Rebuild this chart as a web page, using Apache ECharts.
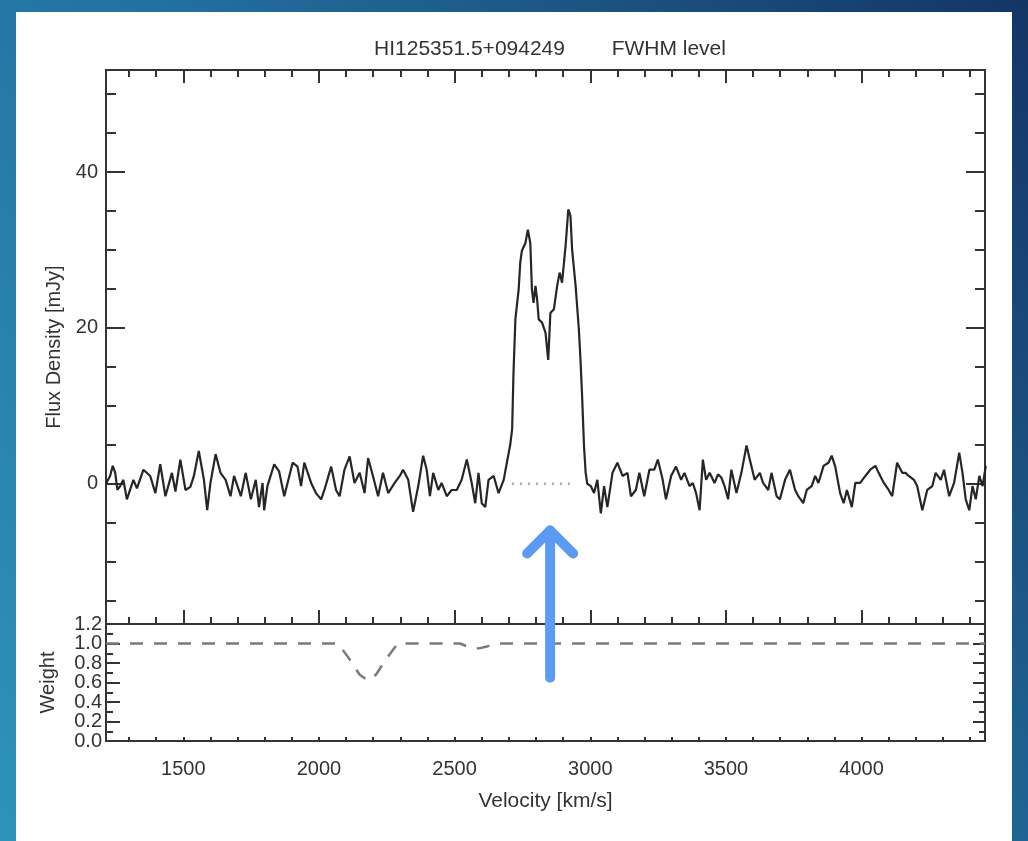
<!DOCTYPE html>
<html>
<head>
<meta charset="utf-8">
<script src="https://cdn.jsdelivr.net/npm/echarts@6/dist/echarts.min.js"></script>
<style>
html,body{margin:0;padding:0;width:1028px;height:841px;overflow:hidden;}
#chart{width:1028px;height:841px;}
</style>
</head>
<body>
<div id="chart"></div>
<script>
// ---------- data ----------
const titleText = 'HI125351.5+094249        FWHM level';
const xName = 'Velocity [km/s]';
const yName = 'Flux Density [mJy]';
const wName = 'Weight';

const velocity = [1215,1220,1230,1240,1249,1257,1267,1279,1292,1316,1329,1353,1378,1397,1415,1434,1458,1471,1489,1508,1526,1539,1557,1576,1588,1600,1619,1637,1656,1674,1687,1712,1730,1749,1767,1779,1792,1798,1810,1835,1853,1872,1903,1921,1934,1946,1971,1989,2008,2020,2045,2063,2076,2094,2113,2131,2150,2168,2181,2199,2218,2236,2255,2279,2298,
2310,2329,2347,2366,2384,2397,2409,2421,2440,2452,2471,2489,2508,2526,2545,2563,2576,2588,2600,2613,2625,2644,2662,2681,2693,2705,
2712,2717,2724,2736,2742,2748,2761,2770,2779,2785,2791,2798,2804,2810,2822,2835,2845,2853,2866,2878,2887,2896,2909,2919,2927,2933,2946,2958,2964,2970,2977,2983,2989,
3002,3014,3026,3039,3051,3063,3082,3100,3119,3137,3150,3168,3181,3199,3218,3236,3249,3267,3279,3298,3316,3335,3347,3366,3378,
3390,3403,3415,3427,3440,3458,3471,3483,3495,3508,3520,3539,3557,3576,3588,3606,3625,3637,3656,3668,3687,3699,3718,3736,3755,3767,3785,3798,3816,3829,3841,3860,3878,3890,3903,3921,3934,3946,3964,3977,3995,4014,4032,4051,4063,4082,4100,4113,4131,4150,4162,4174,4193,4205,4224,4242,4261,4273,4292,4304,4323,4341,4360,4372,4384,4397,4409,4421,4434,4446,4458];

const flux = [0,0,1.0,2.3,1.4,-0.8,-0.3,0.5,-2.0,0.5,-0.6,1.8,1.0,-1.2,2.5,-1.6,1.4,-1.0,3.1,-0.8,-0.4,1.0,4.2,0.5,-3.4,0.1,3.8,1.4,0.5,-1.6,1.0,-1.6,1.4,-2.0,0.5,-3.0,0.1,-3.4,-0.3,2.5,1.6,-1.6,2.7,2.2,-0.3,2.7,0.1,-1.2,-2.0,-0.8,2.2,-0.8,-1.6,1.8,3.5,0.1,1.4,-1.2,3.3,1.0,-1.6,1.4,-1.2,0.1,1.0,
1.8,0.5,-3.6,-0.3,3.6,1.8,-1.6,1.4,-0.8,0.1,-1.6,-0.8,-0.8,0.5,3.1,0.1,-2.5,1.4,-2.5,-3.0,0.5,1.0,-1.2,0.5,2.8,5.0,
7.0,14.2,21.1,24.9,28.4,29.9,30.9,32.6,30.9,24.9,23.2,25.4,23.7,21.1,20.7,19.4,15.9,21.9,22.4,25.4,27.1,25.8,30.5,35.2,34.4,30.1,25.4,19.8,15.9,11.2,4.8,1.4,0.0,
-0.3,-1.2,0.5,-3.8,-0.3,-3.0,1.4,2.7,1.0,1.4,-1.6,-0.8,1.4,-1.6,1.8,1.8,3.1,0.5,-2.0,1.0,2.2,0.5,1.4,-0.3,0.1,
-1.2,-3.4,3.1,0.5,1.4,0.1,1.2,0.8,-0.3,-2.0,1.8,-1.2,1.4,4.9,3.1,0.5,1.4,0.1,-0.8,1.4,-1.6,-2.0,0.5,1.8,-0.8,-1.6,-2.5,-0.8,-0.3,1.0,0.1,2.3,2.7,3.6,2.2,-1.2,-2.5,-0.8,-3.0,0.1,0.1,1.0,1.8,2.3,1.4,0.1,-0.8,-1.6,2.7,1.4,1.4,1.0,0.5,-0.3,-3.4,-0.8,-0.3,1.4,0.5,1.8,-1.6,0.1,4.0,1.4,-2.0,-3.4,-0.3,-2.0,1.0,-0.3,2.3];

// FWHM level marker (dotted, at flux 0)
const fwhmVelocity = [2711, 2941];
const fwhmFlux = [0, 0];

// weight spectrum
const weightVelocity = [1215,2070,2110,2150,2180,2210,2250,2290,2520,2555,2590,2620,2650,4455];
const weightValue   = [1.0, 1.0, 0.85,0.68,0.62,0.68,0.85,1.0, 1.0, 0.96,0.95,0.97,1.0, 1.0];

// axes
const xMin = 1215, xMax = 4455;
const xMajor = [1500,2000,2500,3000,3500,4000];
const xMinor = [1300,1400,1600,1700,1800,1900,2100,2200,2300,2400,2600,2700,2800,2900,3100,3200,3300,3400,3600,3700,3800,3900,4100,4200,4300,4400];
const yMin = -18, yMax = 53.1;
const yMajor = [0,20,40];
const yMinor = [-15,-10,-5,5,10,15,25,30,35,45,50];
const wMin = 0, wMax = 1.2;
const wMajor = [0,0.2,0.4,0.6,0.8,1.0,1.2];
const wLabelsA = [0,0.4,0.8,1.2];
const wLabelsB = [0.2,0.6,1.0];
const wMinor = [0.1,0.3,0.5,0.7,0.9,1.1];

// annotation arrow (blue), in data units
const arrowVelocity = 2852;
const arrowTipFlux = -6.0;
const arrowTailWeight = 0.65;

// ---------- chart ----------
const FONT = 'Liberation Sans';
const INK = '#333';
const chart = echarts.init(document.getElementById('chart'));

function xAx(grid, pos, vals, len, opts) {
  return Object.assign({
    type: 'value', gridIndex: grid, position: pos, min: xMin, max: xMax,
    axisLine: { show: true, onZero: false, lineStyle: { color: INK, width: 2 } },
    axisTick: { show: true, inside: true, length: len, customValues: vals, lineStyle: { color: INK, width: 2 } },
    axisLabel: { show: false }, splitLine: { show: false }
  }, opts || {});
}
function yAx(grid, pos, min, max, vals, len, opts) {
  return Object.assign({
    type: 'value', gridIndex: grid, position: pos, min: min, max: max,
    axisLine: { show: true, onZero: false, lineStyle: { color: INK, width: 2 } },
    axisTick: { show: true, inside: true, length: len, customValues: vals, lineStyle: { color: INK, width: 2 } },
    axisLabel: { show: false }, splitLine: { show: false }
  }, opts || {});
}
function wLabelAxis(vals) {
  return yAx(1, 'left', wMin, wMax, [], 0, {
    axisLine: { show: false }, axisTick: { show: false },
    axisLabel: { show: true, customValues: vals, margin: 4, fontFamily: FONT, fontSize: 20, color: INK,
      showMinLabel: true, showMaxLabel: true, hideOverlap: false,
      formatter: v => Number(v).toFixed(1) }
  });
}

const option = {
  animation: false,
  backgroundColor: {
    type: 'linear', x: 0, y: 1, x2: 1, y2: 0,
    colorStops: [{ offset: 0, color: '#2e93b8' }, { offset: 0.5, color: '#22709f' }, { offset: 1, color: '#143566' }]
  },
  title: {
    text: titleText, left: 545, top: 34, textAlign: 'center',
    textStyle: { fontFamily: FONT, fontSize: 21, fontWeight: 'normal', color: INK }
  },
  grid: [
    { left: 106, right: 43, top: 70, height: 554, outerBoundsMode: 'none' },
    { left: 106, right: 43, top: 624, height: 117, outerBoundsMode: 'none' }
  ],
  xAxis: [
    xAx(0, 'bottom', xMajor, 14),
    xAx(0, 'bottom', xMinor, 7),
    xAx(0, 'top', xMajor, 13),
    xAx(0, 'top', xMinor, 7),
    xAx(1, 'bottom', xMajor, 4, {
      axisLabel: { show: true, customValues: xMajor, margin: 18, fontFamily: FONT, fontSize: 20, color: INK,
        formatter: v => String(Math.round(v)) },
      name: xName, nameLocation: 'middle', nameGap: 50,
      nameTextStyle: { fontFamily: FONT, fontSize: 21, color: INK }
    }),
    xAx(1, 'bottom', xMinor, 4),
    xAx(1, 'top', [], 0, { axisTick: { show: false } })
  ],
  yAxis: [
    yAx(0, 'left', yMin, yMax, yMajor, 19, {
      axisLabel: { show: true, customValues: yMajor, margin: 8, fontFamily: FONT, fontSize: 20, color: INK,
        formatter: v => String(Math.round(v)) },
      name: yName, nameLocation: 'middle', nameGap: 31,
      nameTextStyle: { fontFamily: FONT, fontSize: 20, color: INK }
    }),
    yAx(0, 'left', yMin, yMax, yMinor, 10),
    yAx(0, 'right', yMin, yMax, yMajor, 19),
    yAx(0, 'right', yMin, yMax, yMinor, 10),
    yAx(1, 'left', wMin, wMax, wMajor, 14, {
      name: wName, nameLocation: 'middle', nameGap: 48,
      nameTextStyle: { fontFamily: FONT, fontSize: 20, color: INK }
    }),
    yAx(1, 'left', wMin, wMax, wMinor, 7),
    yAx(1, 'right', wMin, wMax, wMajor, 12),
    yAx(1, 'right', wMin, wMax, wMinor, 6),
    wLabelAxis(wLabelsA),
    wLabelAxis(wLabelsB)
  ],
  series: [
    {
      type: 'line', name: 'flux', xAxisIndex: 0, yAxisIndex: 0,
      data: velocity.map((v, i) => [v, flux[i]]),
      showSymbol: false, symbol: 'none', clip: true,
      lineStyle: { color: '#262626', width: 2.2 }
    },
    {
      type: 'line', name: 'fwhm', xAxisIndex: 0, yAxisIndex: 0,
      data: fwhmVelocity.map((v, i) => [v, fwhmFlux[i]]),
      showSymbol: false, symbol: 'none',
      lineStyle: { color: '#aaaaaa', width: 2.5, type: [2, 6] }
    },
    {
      type: 'line', name: 'weight', xAxisIndex: 4, yAxisIndex: 4,
      data: weightVelocity.map((v, i) => [v, weightValue[i]]),
      showSymbol: false, symbol: 'none', clip: true,
      lineStyle: { color: '#7a7a7a', width: 2.5, type: [13, 11] }
    }
  ]
};
chart.setOption(option);

// blue annotation arrow, positioned from data values
const tip = chart.convertToPixel({ xAxisIndex: 0, yAxisIndex: 0 }, [arrowVelocity, arrowTipFlux]);
const tail = chart.convertToPixel({ xAxisIndex: 4, yAxisIndex: 4 }, [arrowVelocity, arrowTailWeight]);
const head = 23;
chart.setOption({
  graphic: [
    { type: 'rect', z: -10, silent: true, shape: { x: 16, y: 12, width: 996, height: 829 }, style: { fill: '#ffffff' } },
    { type: 'polyline', z: 100, silent: true,
      shape: { points: [[tip[0], tip[1]], [tail[0], tail[1]]] },
      style: { stroke: '#5c9bf2', lineWidth: 10, lineCap: 'round', fill: null } },
    { type: 'polyline', z: 100, silent: true,
      shape: { points: [[tip[0] - head, tip[1] + head], [tip[0], tip[1]], [tip[0] + head, tip[1] + head]] },
      style: { stroke: '#5c9bf2', lineWidth: 10, lineCap: 'round', lineJoin: 'round', fill: null } }
  ]
});
</script>
</body>
</html>
